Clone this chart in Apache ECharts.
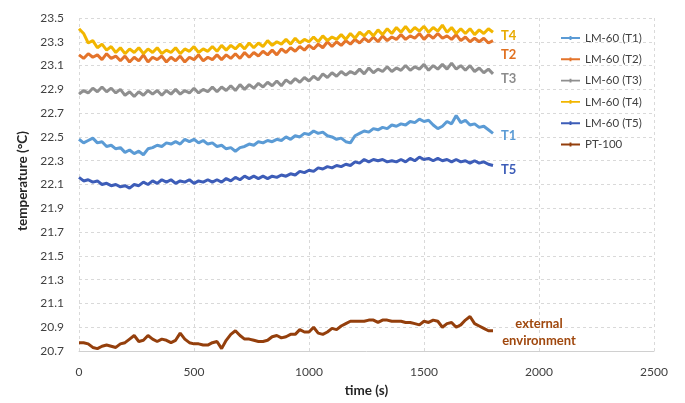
<!DOCTYPE html>
<html>
<head>
<meta charset="utf-8">
<script src="https://cdn.jsdelivr.net/npm/echarts@6/dist/echarts.min.js"></script>
<style>
  html, body { margin: 0; padding: 0; background: #fff; }
  #chart { width: 685px; height: 403px; }
</style>
</head>
<body>
<div id="chart"></div>
<script>
// Sensor readings, one sample every 20 s from 0 to 1800 s (°C)
const sampleStep = 20;

const seriesNames = ['LM-60 (T1)', 'LM-60 (T2)', 'LM-60 (T3)', 'LM-60 (T4)', 'LM-60 (T5)', 'PT-100'];
const endTags = ['T1', 'T2', 'T3', 'T4', 'T5', 'external\nenvironment'];

const t1Values = [
  22.48, 22.45, 22.47, 22.49, 22.45, 22.46, 22.42, 22.43, 22.40, 22.41,
  22.37, 22.39, 22.36, 22.38, 22.35, 22.40, 22.41, 22.43, 22.42, 22.45,
  22.44, 22.46, 22.44, 22.48, 22.46, 22.48, 22.45, 22.47, 22.44, 22.45,
  22.42, 22.43, 22.40, 22.41, 22.38, 22.41, 22.42, 22.44, 22.43, 22.46,
  22.45, 22.47, 22.46, 22.48, 22.47, 22.50, 22.48, 22.51, 22.50, 22.53,
  22.52, 22.55, 22.53, 22.54, 22.51, 22.50, 22.48, 22.49, 22.46, 22.45,
  22.51, 22.53, 22.55, 22.54, 22.57, 22.56, 22.58, 22.57, 22.60, 22.59,
  22.61, 22.60, 22.63, 22.62, 22.65, 22.63, 22.64, 22.60, 22.57, 22.59,
  22.63, 22.61, 22.68, 22.62, 22.64, 22.60, 22.61, 22.58, 22.59, 22.56,
  22.53
];

const t2Values = [
  23.19, 23.16, 23.20, 23.17, 23.19, 23.15, 23.20, 23.16, 23.18, 23.14,
  23.18, 23.13, 23.17, 23.14, 23.19, 23.13, 23.17, 23.15, 23.18, 23.13,
  23.17, 23.14, 23.18, 23.13, 23.17, 23.15, 23.19, 23.14, 23.17, 23.15,
  23.19, 23.15, 23.19, 23.16, 23.20, 23.16, 23.21, 23.17, 23.21, 23.18,
  23.22, 23.19, 23.23, 23.19, 23.24, 23.21, 23.25, 23.22, 23.26, 23.23,
  23.27, 23.24, 23.28, 23.25, 23.30, 23.26, 23.30, 23.27, 23.31, 23.28,
  23.32, 23.29, 23.33, 23.30, 23.34, 23.30, 23.35, 23.31, 23.34, 23.32,
  23.36, 23.32, 23.35, 23.33, 23.37, 23.32, 23.36, 23.33, 23.37, 23.33,
  23.35, 23.32, 23.36, 23.31, 23.34, 23.30, 23.33, 23.30, 23.33, 23.29,
  23.31
];

const t3Values = [
  22.86, 22.89, 22.87, 22.91, 22.88, 22.92, 22.88, 22.91, 22.87, 22.90,
  22.85, 22.88, 22.84, 22.88, 22.85, 22.89, 22.86, 22.89, 22.85, 22.89,
  22.86, 22.90, 22.86, 22.89, 22.87, 22.91, 22.87, 22.90, 22.88, 22.92,
  22.88, 22.92, 22.89, 22.93, 22.89, 22.94, 22.90, 22.94, 22.91, 22.95,
  22.92, 22.96, 22.93, 22.97, 22.93, 22.98, 22.95, 22.99, 22.96, 23.00,
  22.97, 23.01, 22.98, 23.03, 23.00, 23.04, 23.01, 23.05, 23.02, 23.05,
  23.03, 23.07, 23.03, 23.08, 23.04, 23.07, 23.05, 23.09, 23.05, 23.08,
  23.06, 23.10, 23.06, 23.09, 23.07, 23.11, 23.06, 23.10, 23.07, 23.11,
  23.07, 23.12, 23.07, 23.10, 23.06, 23.10, 23.05, 23.08, 23.04, 23.07,
  23.03
];

const t4Values = [
  23.41, 23.37, 23.29, 23.31, 23.25, 23.28, 23.23, 23.26, 23.21, 23.25,
  23.20, 23.24, 23.21, 23.25, 23.20, 23.24, 23.21, 23.25, 23.20, 23.23,
  23.21, 23.25, 23.20, 23.24, 23.22, 23.26, 23.21, 23.24, 23.22, 23.26,
  23.22, 23.27, 23.23, 23.27, 23.24, 23.28, 23.24, 23.29, 23.25, 23.29,
  23.26, 23.31, 23.27, 23.30, 23.28, 23.32, 23.28, 23.33, 23.29, 23.32,
  23.30, 23.34, 23.30, 23.35, 23.31, 23.34, 23.32, 23.36, 23.32, 23.37,
  23.33, 23.38, 23.35, 23.39, 23.35, 23.40, 23.36, 23.41, 23.37, 23.42,
  23.38, 23.43, 23.38, 23.42, 23.39, 23.43, 23.38, 23.42, 23.39, 23.44,
  23.38, 23.42, 23.37, 23.41, 23.37, 23.41, 23.36, 23.40, 23.37, 23.41,
  23.38
];

const t5Values = [
  22.16, 22.13, 22.14, 22.12, 22.13, 22.10, 22.11, 22.09, 22.10, 22.08,
  22.09, 22.07, 22.10, 22.09, 22.12, 22.10, 22.13, 22.11, 22.14, 22.12,
  22.14, 22.11, 22.13, 22.12, 22.14, 22.11, 22.13, 22.12, 22.14, 22.12,
  22.14, 22.12, 22.15, 22.13, 22.16, 22.14, 22.17, 22.15, 22.17, 22.15,
  22.17, 22.15, 22.17, 22.16, 22.18, 22.17, 22.19, 22.18, 22.21, 22.20,
  22.22, 22.21, 22.24, 22.23, 22.25, 22.24, 22.26, 22.25, 22.27, 22.26,
  22.29, 22.28, 22.31, 22.29, 22.31, 22.30, 22.31, 22.29, 22.30, 22.29,
  22.31, 22.29, 22.32, 22.30, 22.33, 22.31, 22.32, 22.30, 22.32, 22.30,
  22.31, 22.29, 22.31, 22.29, 22.30, 22.28, 22.30, 22.28, 22.29, 22.27,
  22.26
];

const pt100Values = [
  20.77, 20.77, 20.76, 20.73, 20.72, 20.74, 20.75, 20.74, 20.73, 20.76,
  20.77, 20.80, 20.83, 20.78, 20.79, 20.83, 20.80, 20.78, 20.80, 20.79,
  20.77, 20.79, 20.85, 20.80, 20.77, 20.76, 20.76, 20.75, 20.75, 20.77,
  20.78, 20.72, 20.79, 20.84, 20.87, 20.83, 20.80, 20.80, 20.79, 20.78,
  20.78, 20.79, 20.82, 20.83, 20.81, 20.82, 20.84, 20.84, 20.88, 20.86,
  20.86, 20.90, 20.85, 20.84, 20.86, 20.89, 20.88, 20.91, 20.93, 20.95,
  20.95, 20.95, 20.95, 20.96, 20.96, 20.94, 20.96, 20.96, 20.95, 20.95,
  20.95, 20.94, 20.94, 20.93, 20.92, 20.95, 20.94, 20.96, 20.95, 20.90,
  20.93, 20.94, 20.90, 20.92, 20.96, 20.99, 20.93, 20.91, 20.89, 20.87,
  20.87
];

const allValues = [t1Values, t2Values, t3Values, t4Values, t5Values, pt100Values];
const lineColors = ['#5B9BD5', '#E4742B', '#8F8F8F', '#F2B600', '#3D5DB8', '#943F0C'];
const tagColors  = ['#5B9BD5', '#E07020', '#8C8C8C', '#E8AA00', '#3D5DB8', '#A0480E'];
const lineWidths = [3, 3, 3, 3, 3, 3];
const tagOffsets = [[2, 2], [2, 14], [2, 5], [2, 4], [2, 4], [40, 2]];

const fontFamily = 'Lato, "Open Sans", sans-serif';

const series = allValues.map((vals, k) => ({
  name: seriesNames[k],
  type: 'line',
  data: vals.map((v, i) => [i * sampleStep, v]),
  symbol: 'none',
  lineStyle: { color: lineColors[k], width: lineWidths[k] },
  itemStyle: { color: lineColors[k] },
  z: 2 + k,
  animation: false,
  endLabel: {
    show: true,
    formatter: endTags[k],
    color: tagColors[k],
    fontFamily: fontFamily,
    fontWeight: 'bold',
    fontSize: 13,
    lineHeight: 17,
    distance: 6,
    align: k === 5 ? 'center' : 'left',
    offset: tagOffsets[k]
  }
}));

const chart = echarts.init(document.getElementById('chart'), null, { renderer: 'canvas' });
chart.setOption({
  animation: false,
  backgroundColor: '#ffffff',
  grid: { left: 79, right: 31, top: 18, bottom: 42, containLabel: false },
  legend: {
    orient: 'vertical',
    left: 556,
    top: 27,
    itemWidth: 19,
    itemHeight: 12,
    itemGap: 9.3,
    icon: 'path://M0,5 L20,5 L20,7 L0,7 Z M9,4 L11,4 L11,8 L9,8 Z',
    textStyle: { fontFamily: fontFamily, fontSize: 11.5, color: '#404040' },
    data: seriesNames
  },
  xAxis: {
    type: 'value',
    min: 0,
    max: 2500,
    interval: 500,
    name: 'time (s)',
    nameLocation: 'middle',
    nameGap: 33,
    nameTextStyle: { fontFamily: fontFamily, fontWeight: 'bold', fontSize: 13.5, color: '#262626' },
    axisLine: { show: true, lineStyle: { color: '#d0d0d0', width: 1 } },
    axisTick: { show: false },
    axisLabel: {
      fontFamily: fontFamily, fontSize: 12, color: '#404040', margin: 15,
      formatter: v => String(v)
    },
    splitLine: { show: true, lineStyle: { color: '#d9d9d9', type: [3, 3], width: 1 } }
  },
  yAxis: {
    type: 'value',
    min: 20.7,
    max: 23.5,
    interval: 0.2,
    name: 'temperature (°C)',
    nameLocation: 'middle',
    nameGap: 46,
    nameRotate: 90,
    nameTextStyle: { fontFamily: fontFamily, fontWeight: 'bold', fontSize: 13.5, color: '#262626', padding: [0, 0, 0, 7] },
    axisLine: { show: false },
    axisTick: { show: false },
    axisLabel: {
      fontFamily: fontFamily, fontSize: 12, color: '#404040', margin: 15,
      formatter: v => v.toFixed(1)
    },
    splitLine: { show: true, lineStyle: { color: '#d9d9d9', type: [3, 3], width: 1 } }
  },
  series: series
});
</script>
</body>
</html>
